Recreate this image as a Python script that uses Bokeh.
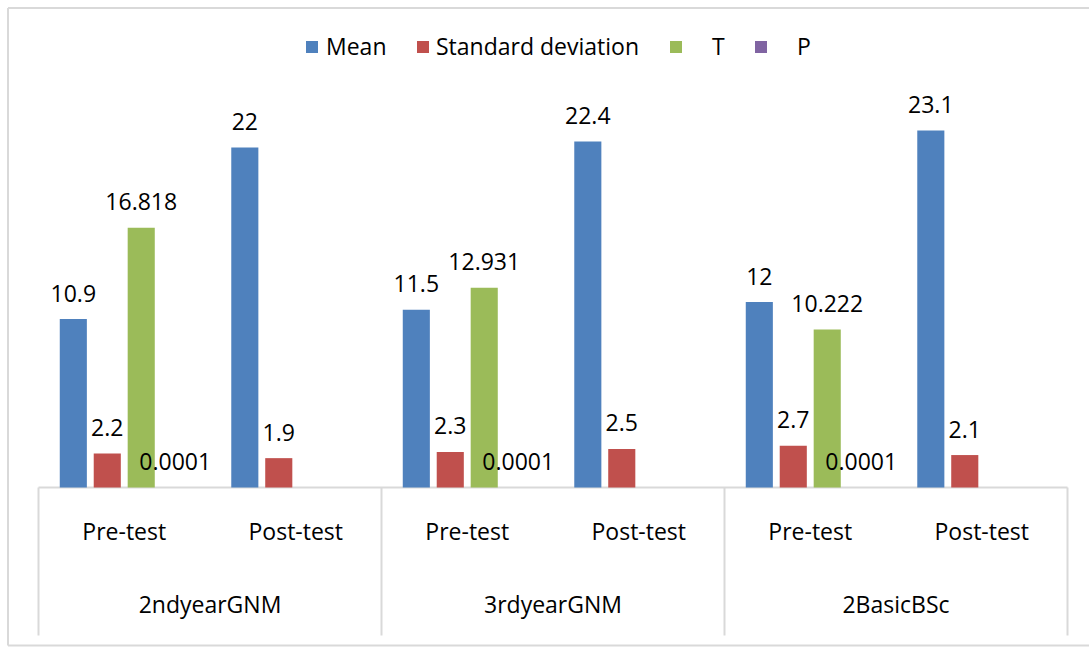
from bokeh.plotting import figure
from bokeh.models import ColumnDataSource, Range1d, Legend, LegendItem
from bokeh.core.properties import value
from bokeh.embed import file_html
from bokeh.resources import INLINE

# ---------------- data ----------------
groups = ["2ndyearGNM", "3rdyearGNM", "2BasicBSc"]
tests = ["Pre-test", "Post-test"]
series = ["Mean", "Standard deviation", "T", "P"]
mean = [10.9, 22, 11.5, 22.4, 12, 23.1]
std_dev = [2.2, 1.9, 2.3, 2.5, 2.7, 2.1]
t_value = [16.818, None, 12.931, None, 10.222, None]
p_value = [0.0001, None, 0.0001, None, 0.0001, None]
colors = ["#4F81BD", "#C0504D", "#9BBB59", "#8064A2"]

# ---------------- layout constants (pixels) ----------------
W, H = 1089, 647
PX_X = 171.5      # px per sub-category
LEFT = 38         # px from canvas left to start of category area
PX_Y = 15.45      # px per value unit
BASE = 487        # px from canvas top to baseline
AXIS_DEPTH = 148  # px of category box below baseline
FONT = "Open Sans"
FS = "23px"
LINE = "#d9d9d9"


def dx(px):
    return (px - LEFT) / PX_X


def dy(px):
    return (BASE - px) / PX_Y


p = figure(width=W, height=H,
           x_range=Range1d(dx(0), dx(W)),
           y_range=Range1d(dy(H), dy(0)),
           x_axis_type=None, y_axis_type=None,
           output_backend="svg", toolbar_location=None, title=None,
           min_border=0, min_border_left=0, min_border_right=0,
           min_border_top=0, min_border_bottom=0)
p.outline_line_color = None
p.background_fill_color = "white"
p.border_fill_color = "white"

# outer chart border
bx0, by0, by1 = 7.5, 7.5, 645
p.segment(x0=[dx(bx0), dx(bx0), dx(bx0)], y0=[dy(by0), dy(by0), dy(by1)],
          x1=[dx(W + 5), dx(bx0), dx(W + 5)], y1=[dy(by0), dy(by1), dy(by1)],
          line_color=LINE, line_width=2)

cats = [(g, t) for g in groups for t in tests]
centres = [i + 0.5 for i in range(len(cats))]
n_sub = len(tests)
BAR_STEP = 0.198
BAR_W = 0.158
offsets = [(k - (len(series) - 1) / 2) * BAR_STEP for k in range(len(series))]

# category box lines
bottom_y = -AXIS_DEPTH / PX_Y
p.segment(x0=[0], y0=[0], x1=[len(cats)], y1=[0], line_color=LINE, line_width=2)
div_x = [g * n_sub for g in range(len(groups) + 1)]
p.segment(x0=div_x, y0=[0] * len(div_x), x1=div_x, y1=[bottom_y] * len(div_x),
          line_color=LINE, line_width=2)

# bars + labels
renderers = []
for k, (name, vals) in enumerate(zip(series, [mean, std_dev, t_value, p_value])):
    xs = [c + offsets[k] for c in centres]
    tops = [float("nan") if v is None else v for v in vals]
    src = ColumnDataSource(dict(x=xs, top=tops))
    r = p.vbar(x="x", top="top", bottom=0, width=BAR_W, source=src,
               fill_color=colors[k], line_color=None)
    renderers.append(r)
    lx = [x for x, v in zip(xs, vals) if v is not None]
    ly = [v for v in vals if v is not None]
    lt = [f"{v:g}" for v in vals if v is not None]
    p.text(x=lx, y=ly, text=lt, y_offset=-26, text_align="center",
           text_baseline="middle", text_font=value(FONT),
           text_font_size=value(FS), text_color="black")

# category labels
p.text(x=centres, y=[0] * len(centres), text=[c[1] for c in cats], y_offset=43,
       text_align="center", text_baseline="middle", text_font=value(FONT),
       text_font_size=value(FS), text_color="black")
gx = [g * n_sub + n_sub / 2 for g in range(len(groups))]
p.text(x=gx, y=[0] * len(gx), text=groups, y_offset=116,
       text_align="center", text_baseline="middle", text_font=value(FONT),
       text_font_size=value(FS), text_color="black")

# legends (one per entry, to match spacing)
leg_x = [304, 415, 668, 753]
standoff = [7, 6, 29, 29]
for k, name in enumerate(series):
    leg = Legend(items=[LegendItem(label=name, renderers=[renderers[k]])],
                 location=(leg_x[k], H - 62), orientation="horizontal",
                 glyph_width=15, glyph_height=15, label_standoff=standoff[k],
                 label_height=31, padding=0, margin=0, spacing=0,
                 border_line_alpha=0, background_fill_alpha=0,
                 label_text_font=FONT, label_text_font_size=FS,
                 label_text_color="black")
    p.add_layout(leg, "center")

open("out.html", "w").write(file_html(p, INLINE))
